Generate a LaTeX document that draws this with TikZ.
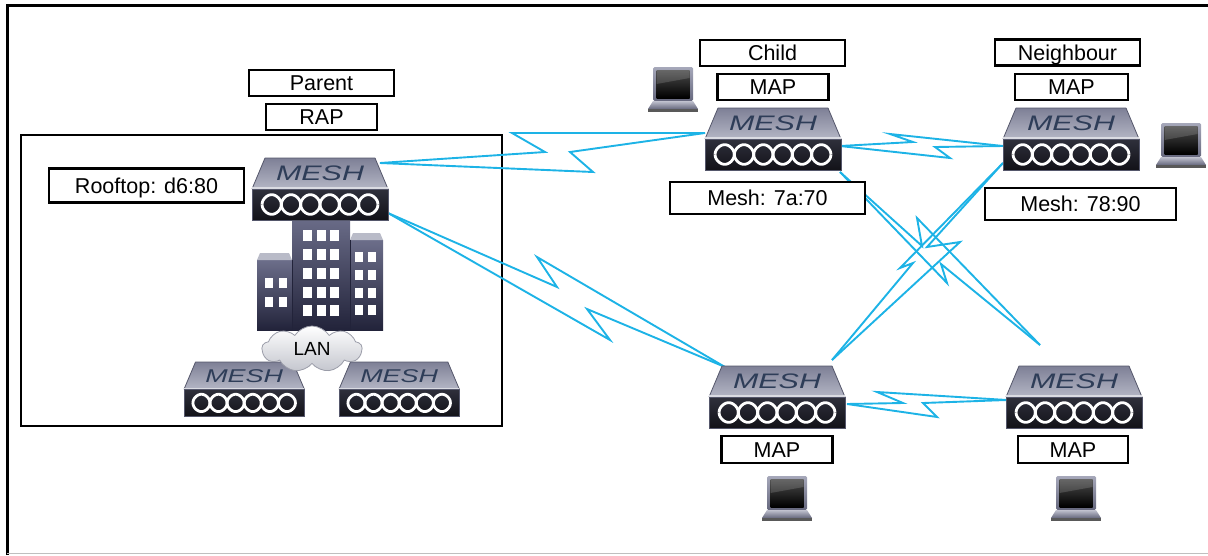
\documentclass[tikz,border=0pt]{standalone}
\usepackage{fontspec}
\usepackage{graphicx}
\setmainfont{Liberation Sans}
\usetikzlibrary{shapes.symbols}

\definecolor{linkcyan}{HTML}{1DB3E6}
\definecolor{faceA}{HTML}{7E8096}
\definecolor{faceB}{HTML}{B4B6C5}
\definecolor{faceEdge}{HTML}{55576B}
\definecolor{panelA}{HTML}{2E2F3B}
\definecolor{panelB}{HTML}{121218}
\definecolor{meshInk}{HTML}{2E3D58}
\definecolor{bldA}{HTML}{6C6E8A}
\definecolor{bldB}{HTML}{22233A}
\definecolor{bldTop}{HTML}{B9BBC8}
\definecolor{cloudB}{HTML}{C4C6CE}
\definecolor{cloudEdge}{HTML}{9A9CA8}
\definecolor{lapA}{HTML}{A6A8BA}
\definecolor{lapB}{HTML}{66687E}

\tikzset{
  lbl/.style={draw=black, line width=2.3pt, fill=white, inner sep=0pt,
    font=\fontsize{21.5}{24}\selectfont, text height=15.5pt, text depth=0pt},
  link/.style={draw=linkcyan, line width=1.9pt, line join=miter},
  window/.style={fill=white},
  % wireless mesh access point
  meshbox/.pic={
    \shade[top color=faceA, bottom color=faceB] (13,0) -- (123,0) -- (136,31) -- (0,31) -- cycle;
    \draw[faceEdge, line width=0.8pt, line join=round] (0,31) -- (13,0) -- (123,0) -- (136,31);
    \fill[faceB!50!white] (0,29) rectangle (136,31.5);
    \shade[top color=panelA, bottom color=panelB] (0,31.5) rectangle (136,62);
    \draw[faceEdge, line width=0.8pt] (0,31.5) rectangle (136,62);
    \draw[white, line width=2.8pt] plot[domain=0:1080, samples=241, variable=\t]
      ({10+\t*0.10741},{46.5-9.8*sin(\t)/sqrt(max(abs(sin(\t)),0.02))});
    \draw[white, line width=2.8pt] plot[domain=0:1080, samples=241, variable=\t]
      ({10+\t*0.10741},{46.5+9.8*sin(\t)/sqrt(max(abs(sin(\t)),0.02))});
    \node[text=meshInk, font=\fontsize{21}{21}\selectfont\itshape, transform shape, inner sep=0pt]
      at (68,15.5) {\scalebox{1.45}[1]{MESH}};
  },
  % client laptop
  laptop/.pic={
    \shade[top color=lapA, bottom color=lapB, rounded corners=1.5pt] (5,0) rectangle (45,34);
    \shade[top color=black!70, bottom color=black] (8.5,3) rectangle (41.5,31);
    \fill[white, opacity=.15] (8.5,3) -- (41.5,3) -- (41.5,11) -- (8.5,17) -- cycle;
    \shade[top color=lapA!70!white, bottom color=lapB] (5,34) -- (45,34) -- (50,42) -- (0,42) -- cycle;
    \fill[black!65] (0,42) rectangle (50,45);
  }
}

\begin{document}
\begin{tikzpicture}[x=1pt,y=-1pt]
\useasboundingbox (0,0) rectangle (1208,555);

% page frame
\draw[line width=3pt] (7,555) -- (7,5) -- (1208,5);
\draw[black!25, line width=1.5pt] (7,553.5) -- (1208,553.5);

% rooftop site
\node[draw, line width=2.3pt, minimum width=481pt, minimum height=291pt, inner sep=0pt] (site) at (261.5,280.5) {};

% link end points
\coordinate (rapA) at (380,163);
\coordinate (rapB) at (388,213);
\coordinate (childW) at (705,133);
\coordinate (childE) at (840,146);
\coordinate (childSE) at (840,172);
\coordinate (neighW) at (1003,146);
\coordinate (neighSW) at (1003,163);
\coordinate (blN) at (725,367);
\coordinate (blNE) at (832,360);
\coordinate (blE) at (847,404);
\coordinate (brN) at (1040,345);
\coordinate (brW) at (1007,400);

% wireless links
\draw[link] (rapA) -- (545,152) -- (512,133) -- (childW);
\draw[link] (rapA) -- (593,172) -- (570,152) -- (childW);
\draw[link] (rapB) -- (557,287) -- (537,257) -- (blN);
\draw[link] (rapB) -- (610,340) -- (587,309) -- (blN);
\draw[link] (childE) -- (913,142) -- (890,134) -- (neighW);
\draw[link] (childE) -- (950,158) -- (935,147) -- (neighW);
\draw[link] (childSE) -- (922,246) -- (917,218) -- (brN);
\draw[link] (childSE) -- (947,283) -- (941,264) -- (brN);
\draw[link] (neighSW) -- (927,247) -- (960,242) -- (blNE);
\draw[link] (neighSW) -- (900,268) -- (913,263) -- (blNE);
\draw[link] (blE) -- (903,403) -- (877,392) -- (brW);
\draw[link] (blE) -- (937,417) -- (923,403) -- (brW);

% building
\shade[top color=bldA, bottom color=bldB] (292,215) rectangle (350,330);
\shade[top color=bldA, bottom color=bldB] (350,240) rectangle (383,330);
\fill[bldTop] (350,240) -- (353,233) -- (380,233) -- (383,240) -- cycle;
\shade[top color=bldA, bottom color=bldB] (257,260) rectangle (292,330);
\fill[bldTop] (257,260) -- (260,253) -- (289,253) -- (292,260) -- cycle;
\draw[bldB, line width=0.6pt] (292,260) -- (292,330) (350,240) -- (350,330);
\foreach \wx in {303,317,330}
  \foreach \wy in {230,249,268,287,305}
    \fill[window] (\wx,\wy) rectangle ++(8.5,11);
\foreach \wx in {355,368}
  \foreach \wy in {252,270,288,305}
    \fill[window] (\wx,\wy) rectangle ++(8,10);
\foreach \wx in {265,279}
  \foreach \wy in {278,297}
    \fill[window] (\wx,\wy) rectangle ++(8,10);

% access points
\pic (rapdev) at (252,158) {meshbox};
\pic (childdev) at (705,108) {meshbox};
\pic (neighdev) at (1003,108) {meshbox};
\pic (bldev) at (709,366) {meshbox};
\pic (brdev) at (1006,366) {meshbox};
\pic[xscale=0.885, yscale=0.88] (lanA) at (184,362) {meshbox};
\pic[xscale=0.885, yscale=0.88] (lanB) at (339,362) {meshbox};

% wired LAN
\node[cloud, cloud puffs=9, cloud puff arc=115, aspect=2.1, minimum width=100pt, minimum height=46pt,
  draw=cloudEdge, line width=0.8pt, top color=white, bottom color=cloudB, inner sep=0pt,
  font=\fontsize{19}{19}\selectfont] (lan) at (312,349) {LAN};

% laptops
\pic (lapchild) at (648,67) {laptop};
\pic (lapneigh) at (1156,123) {laptop};
\pic (lapbl) at (762,476) {laptop};
\pic (lapbr) at (1051,476) {laptop};

% labels
\node[lbl, minimum width=145pt, minimum height=26pt] (parent) at (321.5,83) {Parent};
\node[lbl, minimum width=111pt, minimum height=26pt] (raplbl) at (321.5,117) {RAP};
\node[lbl, minimum width=195pt, minimum height=34pt] (roof) at (146.5,185.5) {Rooftop: d6:80};
\node[lbl, minimum width=145pt, minimum height=26pt] (childlbl) at (772.5,53) {Child};
\node[lbl, minimum width=111pt, minimum height=26pt] (childmap) at (773,87) {MAP};
\node[lbl, minimum width=195pt, minimum height=32pt] (childmesh) at (767.5,198) {Mesh: 7a:70};
\node[lbl, minimum width=145pt, minimum height=26pt] (neighlbl) at (1067.5,52.5) {Neighbour};
\node[lbl, minimum width=113pt, minimum height=26pt] (neighmap) at (1071.5,87) {MAP};
\node[lbl, minimum width=191pt, minimum height=32pt] (neighmesh) at (1080.5,204) {Mesh: 78:90};
\node[lbl, minimum width=111pt, minimum height=27pt] (blmap) at (777,449.5) {MAP};
\node[lbl, minimum width=110pt, minimum height=27pt] (brmap) at (1073,449.5) {MAP};
\end{tikzpicture}
\end{document}
